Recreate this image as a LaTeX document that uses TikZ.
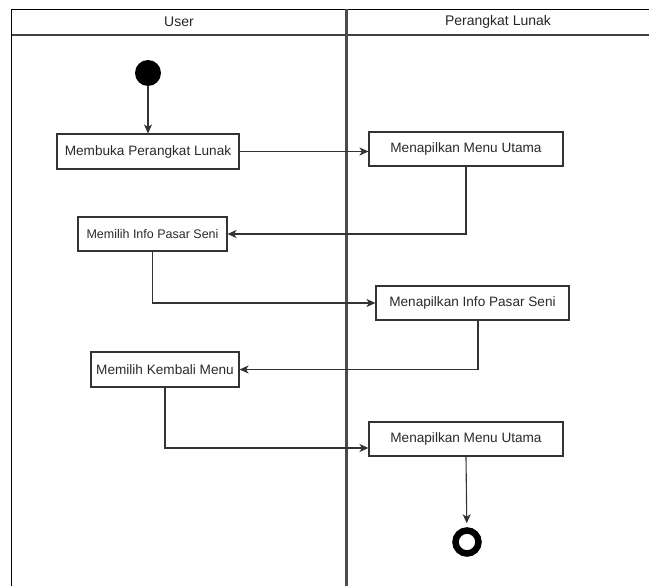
\documentclass[tikz,border=0pt]{standalone}
\usepackage{fontspec}
\setmainfont{Liberation Sans}
\usetikzlibrary{arrows.meta}
\definecolor{txt}{HTML}{2A2A2A}
\definecolor{edge}{HTML}{333333}
\tikzset{
  actbox/.style={draw=edge, line width=1.1pt, fill=white, inner sep=0pt, text=txt,
    font=\fontsize{13.6}{16}\selectfont},
  flow/.style={draw=edge, line width=1.1pt, -{Stealth[length=9pt,width=8pt,inset=2.5pt]}},
  lanehead/.style={text=black!85, font=\fontsize{14}{17}\selectfont}
}
\begin{document}
\begin{tikzpicture}[x=1pt,y=-1pt]
\useasboundingbox (0,0) rectangle (649,586);
% swimlane frame
\draw[black, line width=1.6pt] (11.5,9.5) -- (649,9.5);
\draw[black!75, line width=1.6pt] (11.5,35) -- (649,35);
\draw[black, line width=1.6pt] (11.5,9.5) -- (11.5,586);
\draw[black!70, line width=2.2pt] (346.5,9.5) -- (346.5,586);
\node[lanehead] (hUser) at (179,22) {User};
\node[lanehead] (hPL) at (498,22) {Perangkat Lunak};
% start / end
\node[circle, fill=black, minimum size=26pt, inner sep=0pt] (start) at (148,73) {};
\node[circle, draw=black, line width=6.5pt, minimum size=23pt, inner sep=0pt] (end) at (467,542) {};
% activities
\node[actbox, minimum width=182pt, minimum height=35pt] (b1) at (148,151.5) {Membuka Perangkat Lunak};
\node[actbox, minimum width=194pt, minimum height=34pt] (b2) at (466,149) {Menapilkan Menu Utama};
\node[actbox, minimum width=149pt, minimum height=34pt, font=\fontsize{12.5}{15}\selectfont] (b3) at (152.5,234) {Memilih Info Pasar Seni};
\node[actbox, minimum width=193pt, minimum height=34pt] (b4) at (472.5,303) {Menapilkan Info Pasar Seni};
\node[actbox, minimum width=148pt, minimum height=35pt] (b5) at (165,369.5) {Memilih Kembali Menu};
\node[actbox, minimum width=194pt, minimum height=34pt] (b6) at (466,439) {Menapilkan Menu Utama};
% flows
\draw[flow] (start) -- (b1);
\draw[flow] (b1.east) -- (b1.east -| b2.west);
\draw[flow] (b2.south) |- (b3.east);
\draw[flow] (b3.south) |- (b4.west);
\draw[flow] ([xshift=5.5pt]b4.south) |- (b5.east);
\draw[flow] (b5.south) |- ([yshift=-9pt]b6.west);
\draw[flow, shorten >=4pt] (b6.south) -- (end);
\end{tikzpicture}
\end{document}
